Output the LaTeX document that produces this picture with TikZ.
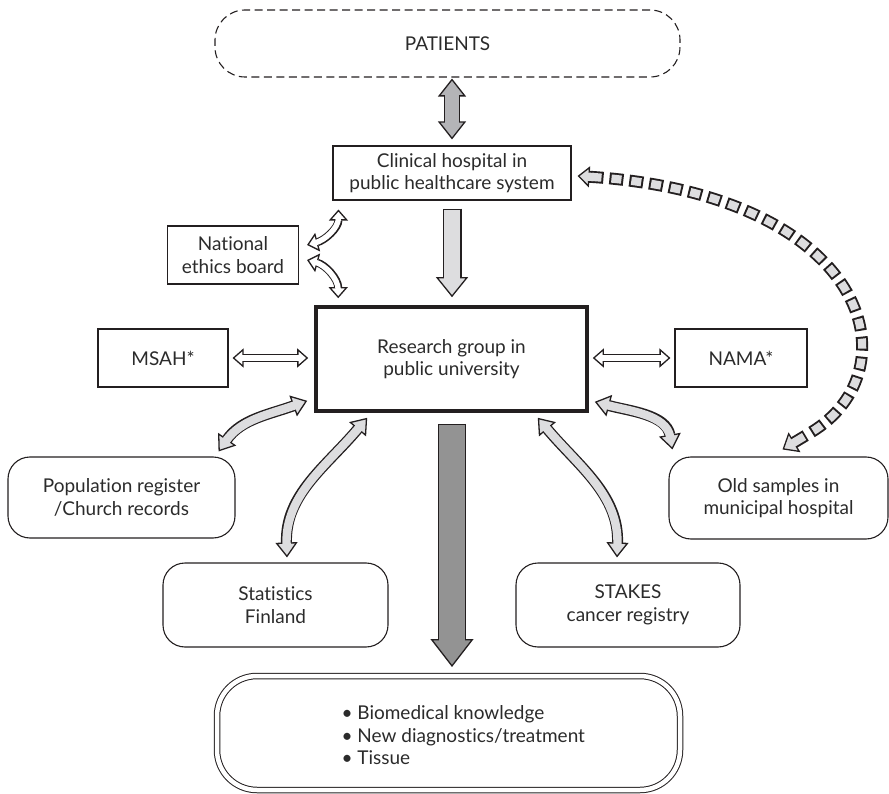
\documentclass[tikz,border=0pt]{standalone}
\usepackage{fontspec}
\setmainfont[Ligatures={NoCommon,NoRare,NoContextual}]{Lato}
\usetikzlibrary{arrows.meta,calc}
\definecolor{ink}{HTML}{231F20}
\definecolor{txt}{HTML}{2B2B2B}
\definecolor{midfill}{HTML}{B4B4B7}
\definecolor{lightfill}{HTML}{DDDDDF}
\definecolor{darkfill}{HTML}{939393}

% Outlined fat arrow: #1 tips, #2 shortening of the inner stroke, #3 outer width,
% #4 inner width, #5 head length, #6 head width, #7 fill colour, #8 path
\newcommand\fatarrow[8]{%
  \draw[ink, line width=#3, >={Triangle[length=#5,width=#6,line width=1.3pt,fill=#7]}, #1] #8;
  \draw[#7, line width=#4, #2] #8;
}

\begin{document}
\begin{tikzpicture}[x=1pt,y=1pt,
  every node/.style={font=\fontsize{19}{22.5}\selectfont, text=txt, align=center},
  box/.style={draw=ink, line width=1.1pt, inner sep=0pt},
  roundbox/.style={box, rounded corners=22pt},
]
\useasboundingbox (0,0) rectangle (889,-794);

% ---------- boxes ----------
\node[box, dash pattern=on 8pt off 4.5pt, rounded corners=30pt,
      minimum width=465pt, minimum height=67pt] (patients) at (447.5,-43.5) {PATIENTS};
\node[box, minimum width=238pt, minimum height=54pt] (clinical) at (452,-173)
  {Clinical hospital in\\public healthcare system};
\node[box, minimum width=131pt, minimum height=58pt] (ethics) at (233,-255)
  {National\\ethics board};
\node[draw=ink, line width=3.6pt, inner sep=0pt, minimum width=271pt, minimum height=104pt]
  (research) at (451.5,-359) {Research group in\\public university};
\node[box, minimum width=130pt, minimum height=58pt] (msah) at (163,-358) {MSAH*};
\node[box, minimum width=132pt, minimum height=58pt] (nama) at (741,-358) {NAMA*};
\node[roundbox, minimum width=227pt, minimum height=81pt] (pop) at (121.5,-497.5)
  {Population register\\/Church records};
\node[roundbox, minimum width=225pt, minimum height=84pt] (stat) at (275.5,-605)
  {Statistics\\Finland};
\node[roundbox, minimum width=224pt, minimum height=84pt] (stakes) at (628,-605)
  {STAKES\\cancer registry};
\node[roundbox, minimum width=219pt, minimum height=82pt] (old) at (778.5,-498)
  {Old samples in\\municipal hospital};
\node[draw=ink, line width=1pt, double=white, double distance=4.5pt, rounded corners=40pt,
      minimum width=463pt, minimum height=114pt] (result) at (448.5,-733) {};
\node[align=left, anchor=west] (outcomes) at (338,-735.5)
  {\textbullet\ Biomedical knowledge\\\textbullet\ New diagnostics/treatment\\\textbullet\ Tissue};

% ---------- straight fat arrows ----------
\fatarrow{<->}{shorten >=15.5pt, shorten <=15.5pt}{16pt}{13.4pt}{18pt}{28pt}{midfill}
  {([yshift=-1pt]patients.south -| clinical.north) -- ([yshift=6pt]clinical.north)}
\fatarrow{->}{shorten >=17.5pt, shorten <=1.3pt}{19pt}{16.4pt}{20pt}{32pt}{lightfill}
  {([yshift=-8pt]clinical.south) -- ([yshift=8pt]research.north -| clinical.south)}
\fatarrow{->}{shorten >=25.5pt, shorten <=1.3pt}{28pt}{25.4pt}{28pt}{43pt}{darkfill}
  {([xshift=0.5pt,yshift=-11pt]research.south) -- ([xshift=3.5pt,yshift=8.5pt]result.north)}

% ---------- white double arrows ----------
\fatarrow{<->}{shorten >=8.5pt, shorten <=8.5pt}{8pt}{5.4pt}{11pt}{19pt}{white}
  {([xshift=4pt]msah.east) -- ([xshift=-6pt]research.west |- msah.east)}
\fatarrow{<->}{shorten >=8.5pt, shorten <=8.5pt}{8pt}{5.4pt}{11pt}{19pt}{white}
  {([xshift=4pt]research.east |- nama.west) -- ([xshift=-4pt]nama.west)}
\fatarrow{<->}{shorten >=8.5pt, shorten <=8.5pt}{8pt}{5.4pt}{11pt}{19pt}{white}
  {([xshift=8pt,yshift=10pt]ethics.east) to[out=15,in=-90] ([xshift=6pt,yshift=-9pt]clinical.south west)}
\fatarrow{<->}{shorten >=8.5pt, shorten <=8.5pt}{8pt}{5.4pt}{11pt}{19pt}{white}
  {([xshift=8pt,yshift=-5pt]ethics.east) to[out=-15,in=90] ([xshift=24pt,yshift=7pt]research.north west)}

% ---------- curved grey double arrows ----------
\fatarrow{<->}{shorten >=12.5pt, shorten <=12.5pt}{11pt}{8.4pt}{15pt}{22pt}{lightfill}
  {([xshift=-17pt,yshift=5pt]pop.north east) to[out=55,in=200] ([xshift=-7pt,yshift=12pt]research.south west)}
\fatarrow{<->}{shorten >=12.5pt, shorten <=12.5pt}{11pt}{8.4pt}{15pt}{22pt}{lightfill}
  {([xshift=11.5pt,yshift=5pt]stat.north) to[out=92,in=230] ([xshift=53pt,yshift=-5pt]research.south west)}
\fatarrow{<->}{shorten >=12.5pt, shorten <=12.5pt}{11pt}{8.4pt}{15pt}{22pt}{lightfill}
  {([xshift=-11pt,yshift=5pt]stakes.north) to[out=88,in=310] ([xshift=-51pt,yshift=-5pt]research.south east)}
\fatarrow{<->}{shorten >=12.5pt, shorten <=12.5pt}{11pt}{8.4pt}{15pt}{22pt}{lightfill}
  {([xshift=4pt,yshift=7pt]old.north west) to[out=100,in=345] ([xshift=6pt,yshift=11pt]research.south east)}

% ---------- dashed return arrow from the old samples ----------
\coordinate (d0) at ([xshift=6pt,yshift=-3pt]clinical.east);
\coordinate (d3) at ([xshift=4pt,yshift=7pt]old.north);
\coordinate (c1) at (870,-195);
\coordinate (c2) at (915,-370);
\draw[ink, line width=12pt, dash pattern=on 14pt off 6pt, shorten <=12pt, shorten >=33pt]
  (d0) .. controls (c1) and (c2) .. (d3);
\draw[lightfill, line width=8.2pt, dash pattern=on 10pt off 10pt, dash phase=18pt,
      shorten <=12pt, shorten >=33pt]
  (d0) .. controls (c1) and (c2) .. (d3);
% stub behind the lower head
\draw[ink, line width=12pt] ($(d3)!13pt!(c2)$) -- ($(d3)!27pt!(c2)$);
% heads
\draw[ink, line width=1.3pt, -{Triangle[length=12pt,width=21pt,fill=lightfill]}]
  ($(d0)!12pt!(c1)$) -- (d0);
\draw[ink, line width=1.3pt, -{Triangle[length=14pt,width=23pt,fill=lightfill]}]
  ($(d3)!14pt!(c2)$) -- (d3);
% close the joints between heads and shafts
\draw[lightfill, line width=8.2pt] ($(d0)!10pt!(c1)$) -- ($(d0)!16pt!(c1)$);
\draw[lightfill, line width=8.2pt] ($(d3)!11pt!(c2)$) -- ($(d3)!25.2pt!(c2)$);
\end{tikzpicture}
\end{document}
